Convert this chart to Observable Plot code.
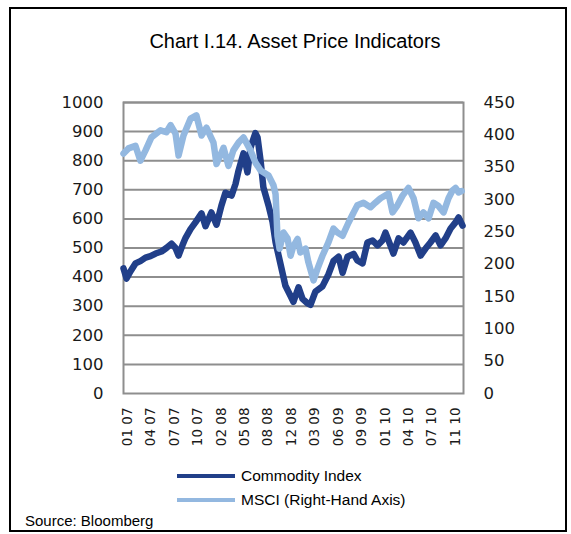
<!DOCTYPE html>
<html>
<head>
<meta charset="utf-8">
<script src="https://cdn.jsdelivr.net/npm/d3@7"></script>
<script src="https://cdn.jsdelivr.net/npm/@observablehq/plot@0.6"></script>
<style>
  body { margin: 0; background: #fff; }
  #fig { position: relative; width: 571px; height: 534px; overflow: hidden; background: #fff; font-family: "Liberation Sans", Arial, sans-serif; color: #000; }
  #border { position: absolute; left: 9px; top: 7px; width: 558px; height: 525px; border: 2px solid #000; box-sizing: border-box; z-index: 5; pointer-events: none; }
  #title { position: absolute; left: 0; top: 31px; width: 590px; text-align: center; font-size: 20px; line-height: 20px; }
  #chart { position: absolute; left: 0; top: 80px; }
  .leg { position: absolute; left: 177px; height: 20px; }
  .leg .sw { position: absolute; left: 0; top: 8px; width: 58px; height: 4px; }
  .leg .lab { position: absolute; left: 64px; top: 0; font-size: 15.5px; line-height: 20px; white-space: nowrap; }
  #source { position: absolute; left: 25px; top: 513px; font-size: 15px; line-height: 15px; }
</style>
</head>
<body>
<div id="fig">
  <div id="title">Chart I.14. Asset Price Indicators</div>
  <div id="chart"></div>
  <div class="leg" style="top:466px"><div class="sw" id="sw1"></div><div class="lab" id="lab1"></div></div>
  <div class="leg" style="top:490px"><div class="sw" id="sw2"></div><div class="lab" id="lab2"></div></div>
  <div id="source">Source: Bloomberg</div>
  <div id="border"></div>
</div>
<script>
// ---- Data ----
const seriesNames = ["Commodity Index", "MSCI (Right-Hand Axis)"];
const seriesColors = ["#213f89", "#93b8e0"];

const commodityDates = ["2006-12-15","2006-12-28","2007-01-14","2007-02-04","2007-02-25","2007-03-19","2007-04-09","2007-05-01","2007-05-26","2007-06-16","2007-07-08","2007-07-25","2007-08-07","2007-08-24","2007-09-06","2007-09-27","2007-10-18","2007-11-13","2007-11-30","2007-12-13","2007-12-25","2008-01-16","2008-02-06","2008-02-23","2008-03-20","2008-04-06","2008-04-19","2008-05-10","2008-05-27","2008-06-09","2008-06-30","2008-07-09","2008-07-22","2008-08-03","2008-08-25","2008-09-11","2008-09-24","2008-10-15","2008-11-05","2008-11-27","2008-12-09","2008-12-31","2009-01-17","2009-02-07","2009-02-20","2009-03-13","2009-04-12","2009-05-08","2009-05-29","2009-06-20","2009-07-07","2009-07-28","2009-08-23","2009-09-08","2009-09-30","2009-10-21","2009-11-12","2009-12-03","2009-12-24","2010-01-06","2010-01-27","2010-02-09","2010-03-03","2010-03-24","2010-04-23","2010-05-14","2010-06-05","2010-06-26","2010-07-17","2010-08-08","2010-08-29","2010-09-19","2010-10-11","2010-11-01","2010-11-14","2010-12-01"];
const commodityValues = [430,395,420,447,455,467,472,481,488,500,515,500,474,510,535,565,588,619,575,600,622,580,646,690,680,720,766,825,760,845,895,880,800,708,646,590,520,445,370,335,315,365,325,310,305,350,368,410,455,470,415,470,480,457,447,519,526,509,526,553,509,481,533,519,553,519,474,498,519,543,509,533,567,588,605,577];

const msciDates = ["2006-12-15","2007-01-05","2007-02-04","2007-02-25","2007-03-19","2007-04-13","2007-05-22","2007-06-16","2007-07-04","2007-07-25","2007-08-07","2007-08-28","2007-09-27","2007-10-22","2007-11-13","2007-12-04","2008-01-03","2008-01-16","2008-02-15","2008-03-07","2008-03-28","2008-04-19","2008-05-10","2008-06-09","2008-06-30","2008-07-22","2008-08-25","2008-09-15","2008-09-24","2008-10-02","2008-10-11","2008-10-28","2008-11-14","2008-11-27","2008-12-09","2008-12-27","2009-01-08","2009-01-30","2009-02-11","2009-03-05","2009-03-22","2009-04-12","2009-05-08","2009-05-29","2009-06-15","2009-07-07","2009-08-01","2009-08-23","2009-09-08","2009-10-04","2009-11-03","2009-11-24","2009-12-16","2010-01-19","2010-02-05","2010-02-26","2010-03-20","2010-04-14","2010-05-06","2010-05-27","2010-06-17","2010-07-09","2010-07-30","2010-08-20","2010-09-11","2010-10-02","2010-10-19","2010-11-01","2010-11-14","2010-11-27"];
const msciValues = [371,379,383,360,376,396,407,404,415,402,368,399,425,430,399,411,388,355,380,352,376,388,396,376,357,345,337,322,308,244,224,249,240,213,228,239,218,224,203,175,193,213,234,255,249,244,264,280,291,295,288,295,302,309,280,291,306,318,302,271,280,271,295,290,280,302,314,318,311,313];

const xTickDates = ["2007-01-01","2007-04-11","2007-07-20","2007-10-28","2008-02-05","2008-05-15","2008-08-23","2008-12-01","2009-03-11","2009-06-19","2009-09-27","2010-01-05","2010-04-15","2010-07-24","2010-11-01"];
const xTickLabels = ["01 07","04 07","07 07","10 07","02 08","05 08","08 08","12 08","03 09","06 09","09 09","01 10","04 10","07 10","11 10"];
const xDomain = ["2006-12-15","2010-12-05"];

const leftTicks = [0,100,200,300,400,500,600,700,800,900,1000];
const rightTicks = [0,50,100,150,200,250,300,350,400,450];
const leftMax = 1000, rightMax = 450;

// ---- Build tables ----
const parse = d3.utcParse("%Y-%m-%d");
const commodity = commodityDates.map((d, i) => ({date: parse(d), value: commodityValues[i]}));
const msci = msciDates.map((d, i) => ({date: parse(d), value: msciValues[i], scaled: msciValues[i] * leftMax / rightMax}));
const tickDates = xTickDates.map(parse);
const labelFor = new Map(tickDates.map((d, i) => [+d, xTickLabels[i]]));

const gridColor = "#8e8e8e";

const chart = Plot.plot({
  width: 571,
  height: 375,
  marginTop: 22,
  marginBottom: 62,
  marginLeft: 123,
  marginRight: 108,
  style: {fontFamily: "'DejaVu Sans', sans-serif", fontSize: "16.5px", color: "#1a1a1a", background: "transparent"},
  x: {type: "utc", domain: xDomain.map(parse)},
  y: {domain: [0, leftMax]},
  marks: [
    Plot.gridY(leftTicks.filter(t => t > 0), {stroke: gridColor, strokeOpacity: 1, strokeWidth: 2}),
    Plot.frame({stroke: gridColor, strokeWidth: 2}),
    Plot.axisY(leftTicks, {anchor: "left", tickSize: 0, tickPadding: 20, label: null, tickFormat: d => String(d)}),
    Plot.axisY(rightTicks.map(t => t * leftMax / rightMax), {anchor: "right", tickSize: 0, tickPadding: 20, label: null, tickFormat: d => String(Math.round(d * rightMax / leftMax))}),
    Plot.axisX(tickDates, {anchor: "bottom", tickSize: 0, tickPadding: 14, tickRotate: -90, fontSize: 13.5, label: null, tickFormat: d => labelFor.get(+d)}),
    Plot.line(commodity, {x: "date", y: "value", stroke: seriesColors[0], strokeWidth: 6.5, strokeLinejoin: "round", strokeLinecap: "round"}),
    Plot.line(msci, {x: "date", y: "scaled", stroke: seriesColors[1], strokeWidth: 6.5, strokeLinejoin: "round", strokeLinecap: "round"})
  ]
});
document.getElementById("chart").appendChild(chart);

document.getElementById("sw1").style.background = seriesColors[0];
document.getElementById("sw2").style.background = seriesColors[1];
document.getElementById("lab1").textContent = seriesNames[0];
document.getElementById("lab2").textContent = seriesNames[1];
</script>
</body>
</html>
